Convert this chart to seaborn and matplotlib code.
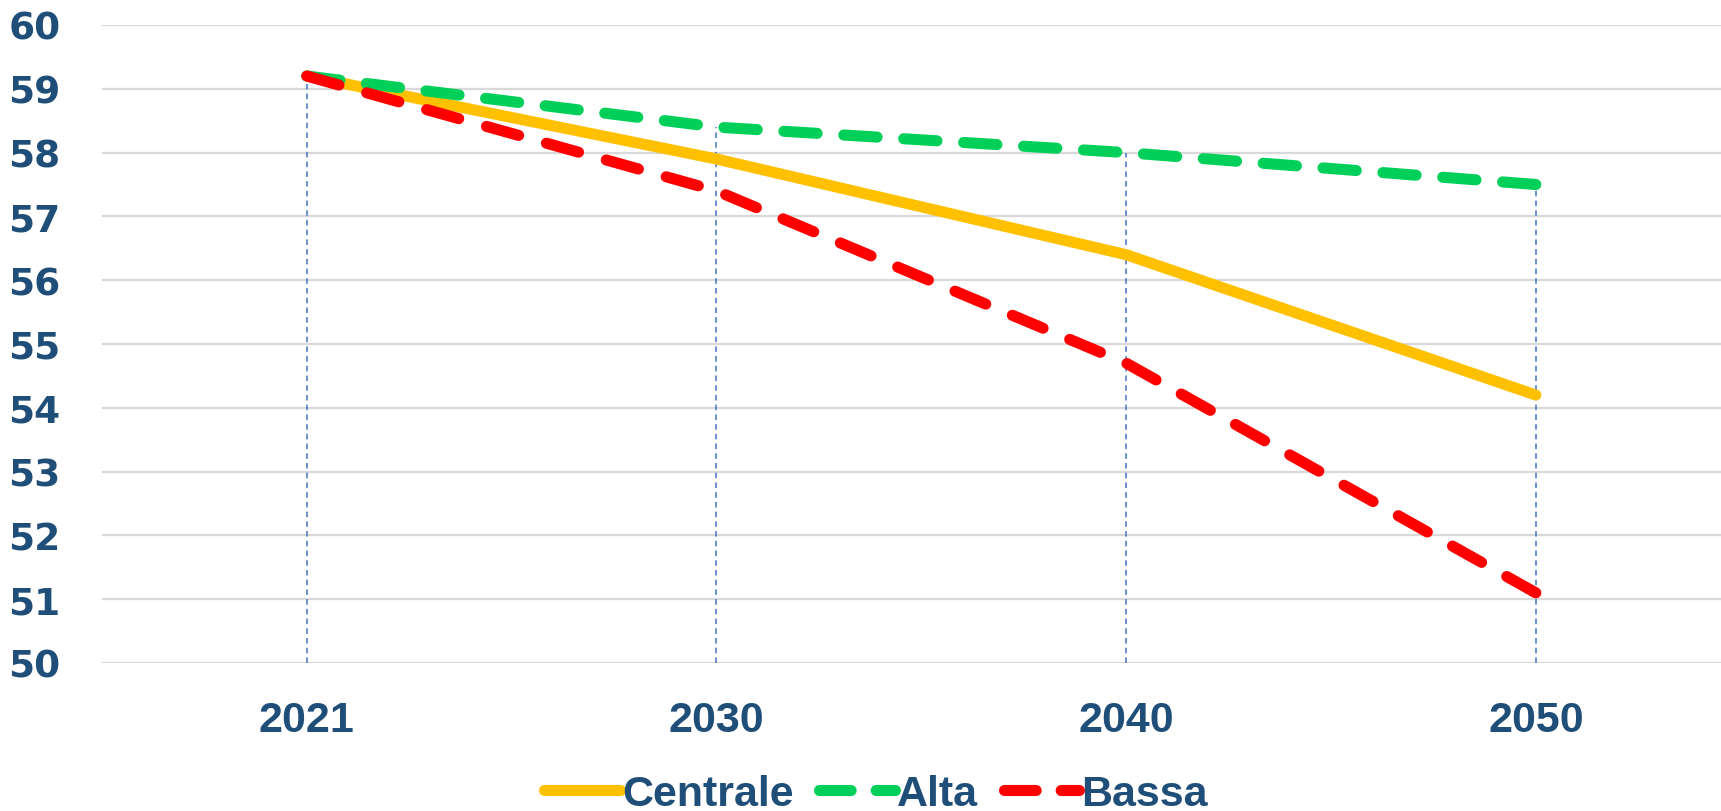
import numpy as np
import pandas as pd
import matplotlib
matplotlib.use("Agg")
import matplotlib.pyplot as plt
import seaborn as sns

# -----------------------------
# DATA
# -----------------------------
years = ["2021", "2030", "2040", "2050"]
centrale = [59.2, 57.9, 56.4, 54.2]
alta = [59.2, 58.4, 58.0, 57.5]
bassa = [59.2, 57.4, 54.7, 51.1]

series_names = ["Centrale", "Alta", "Bassa"]
series_colors = ["#FFC000", "#00D05A", "#FF0000"]

df = pd.DataFrame({"Anno": years, "Centrale": centrale, "Alta": alta, "Bassa": bassa})

# -----------------------------
# STYLE
# -----------------------------
sns.set_style("white")
plt.rcParams["font.family"] = ["Liberation Sans", "DejaVu Sans"]
plt.rcParams["font.weight"] = "bold"
plt.rcParams["lines.scale_dashes"] = False

text_color = "#1F4E79"
dash_on, dash_period = 24, 44
lw = 8.0
dpi = 100

fig = plt.figure(figsize=(17.21, 8.12), dpi=dpi)
ax = fig.add_axes([102 / 1721, 148 / 812, 1 - 102 / 1721, (664 - 26) / 812])

# drop lines from the highest series down to the axis
top_vals = df[series_names].max(axis=1).values
ax.vlines(range(len(years)), 50, top_vals, colors="#4472C4", linestyles=(0, (4, 3)),
          linewidth=1.1, zorder=1)

for name, color in zip(series_names, series_colors):
    style = "-" if name == "Centrale" else (0, (dash_on, dash_period - dash_on))
    sns.lineplot(data=df, x="Anno", y=name, color=color, linewidth=lw,
                 linestyle=style, label=name, ax=ax, zorder=3)

# -----------------------------
# AXES
# -----------------------------
ax.set_ylim(50, 60)
ax.set_yticks(np.arange(50, 61, 1))
ax.set_xlim(-0.5, 3.452)

# fit the dash pattern so each dashed line ends on a dash (like Excel)
for line in ax.get_lines():
    line.set_solid_capstyle("round")
    line.set_dash_capstyle("round")
    if line.get_label() in ("Alta", "Bassa"):
        vals = df[line.get_label()].values
        px = ax.transData.transform(np.column_stack([np.arange(len(vals)), vals]))
        length = np.sum(np.hypot(*np.diff(px, axis=0).T)) * 72 / dpi
        n = max(1, round((length - dash_on) / dash_period))
        line.set_dashes((dash_on, (length - dash_on) / n - dash_on))

ax.grid(axis="y", color="#D9D9D9", linewidth=1.6)
ax.set_axisbelow(True)
for s in ax.spines.values():
    s.set_visible(False)
ax.set_xlabel("")
ax.set_ylabel("")
ax.tick_params(axis="y", length=0, pad=30, labelsize=27, labelcolor=text_color)
ax.tick_params(axis="x", length=0, pad=27, labelsize=31, labelcolor=text_color)
for lab in ax.get_yticklabels():
    lab.set_fontfamily("DejaVu Sans")
    lab.set_fontweight("bold")

leg = ax.legend(loc="center", bbox_to_anchor=(876 / 1721, 1 - 795 / 812),
                bbox_transform=fig.transFigure, ncol=3, frameon=False,
                fontsize=31, handlelength=1.75, handletextpad=0.05,
                columnspacing=0.6, borderpad=0)
for t in leg.get_texts():
    t.set_color(text_color)
    t.set_fontweight("bold")
for line in leg.get_lines():
    line.set_solid_capstyle("round")
    line.set_dash_capstyle("round")
    line.set_linewidth(lw)
    if line.get_label() != "Centrale":
        line.set_dashes((dash_on * 0.95, (dash_period - dash_on) * 0.9))

fig.savefig("out.png", dpi=dpi)
